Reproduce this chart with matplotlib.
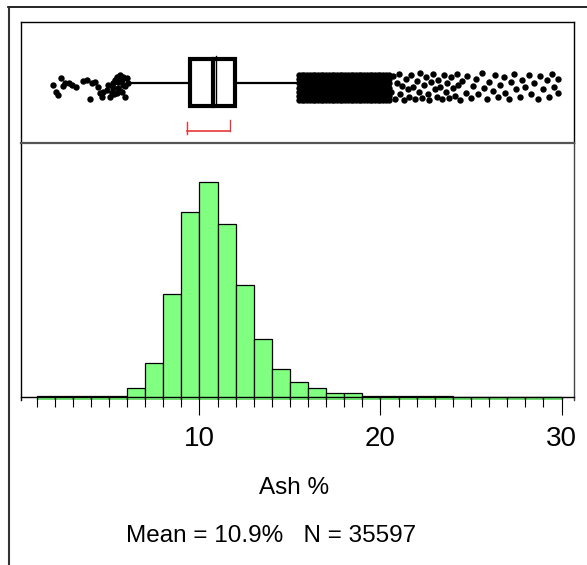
import matplotlib
matplotlib.use("Agg")
import matplotlib.pyplot as plt
from matplotlib.lines import Line2D
import numpy as np

# histogram of ash %, 1 unit bins
bin_edges = [1, 2, 3, 4, 5, 6, 7, 8, 9, 10, 11, 12, 13, 14, 15, 16, 17, 18, 19, 20,
             21, 22, 23, 24, 25, 26, 27, 28, 29, 30]
counts = [15, 20, 20, 25, 40, 340, 1260, 3860, 6950, 8080, 6500, 4210, 2160, 1030,
          565, 340, 130, 130, 15, 12, 10, 8, 8, 6, 6, 5, 5, 4, 4]

# outlier box plot summary
q1 = 9.45
median = 10.75
q3 = 11.96
mean = 10.9
whisker_lo = 6.16
whisker_hi = 15.44
shortest_half = [9.31, 11.69]

# low outliers (value, vertical jitter in panel fraction)
low_x = [1.92, 2.07, 2.20, 2.33, 2.44, 2.57, 2.81, 2.94, 3.18, 3.55, 3.80, 3.95, 4.04,
         4.23, 4.41, 4.50, 4.60, 4.69, 4.87, 4.96, 5.06, 5.15, 5.24, 5.33, 5.43, 5.51,
         5.61, 5.70, 5.79, 5.88, 5.70, 5.43, 5.99, 5.20, 5.50, 5.60, 5.90, 5.30, 5.80, 6.05]
low_y = [0.477, 0.421, 0.394, 0.533, 0.469, 0.491, 0.496, 0.477, 0.463, 0.513, 0.519,
         0.359, 0.491, 0.505, 0.463, 0.408, 0.380, 0.421, 0.436, 0.477, 0.380, 0.408,
         0.491, 0.519, 0.546, 0.450, 0.560, 0.421, 0.477, 0.380, 0.519, 0.408, 0.533,
         0.45, 0.50, 0.43, 0.47, 0.40, 0.54, 0.49]

# dense high outliers just past the upper whisker
dense_x = [15.5, 15.65, 15.8, 15.95, 16.1, 16.25, 16.4, 16.55, 16.7, 16.85, 17.0, 17.15,
           17.3, 17.45, 17.6, 17.75, 17.9, 18.05, 18.2, 18.35, 18.5, 18.65, 18.8, 18.95,
           19.1, 19.25, 19.4, 19.55, 19.7, 19.85, 20.0, 20.15, 20.3, 20.45]
dense_y = [0.35, 0.385, 0.42, 0.455, 0.49, 0.525, 0.56]

# sparser high outliers
high_x = [20.6, 20.7, 20.8, 20.9, 21.0, 21.1, 21.2, 21.3, 21.4, 21.5, 21.6, 21.7, 21.8,
          21.9, 22.0, 22.1, 22.2, 22.3, 22.4, 22.5, 22.6, 22.7, 22.8, 22.9, 23.0, 23.1,
          23.2, 23.3, 23.4, 23.5, 23.6, 23.7, 23.8, 23.9, 24.0, 24.1, 24.2, 24.3, 24.4,
          24.5, 24.7, 24.8, 25.0, 25.1, 25.3, 25.4, 25.6, 25.7, 25.9, 26.0, 26.2, 26.3,
          26.5, 26.6, 26.8, 26.9, 27.1, 27.2, 27.4, 27.5, 27.7, 27.8, 28.0, 28.2, 28.3,
          28.5, 28.7, 28.8, 29.0, 29.2, 29.3, 29.5, 29.6, 29.8, 29.8]
high_y = [0.42, 0.55, 0.36, 0.49, 0.57, 0.40, 0.47, 0.35, 0.53, 0.44, 0.38, 0.56, 0.46,
          0.36, 0.51, 0.42, 0.58, 0.37, 0.48, 0.54, 0.40, 0.35, 0.50, 0.57, 0.44, 0.38,
          0.52, 0.46, 0.36, 0.56, 0.42, 0.49, 0.37, 0.54, 0.45, 0.39, 0.57, 0.48, 0.35,
          0.51, 0.41, 0.55, 0.37, 0.47, 0.53, 0.40, 0.58, 0.45, 0.36, 0.50, 0.43, 0.56,
          0.38, 0.48, 0.54, 0.41, 0.36, 0.50, 0.57, 0.44, 0.38, 0.52, 0.46, 0.56, 0.40,
          0.49, 0.36, 0.55, 0.44, 0.52, 0.38, 0.57, 0.46, 0.41, 0.53]

major_ticks = [10, 20, 30]
x_label = "Ash %"
summary = "Mean = 10.9%   N = 35597"

plt.rcParams["font.family"] = ["Liberation Sans", "DejaVu Sans"]

W, H = 587, 565
fig = plt.figure(figsize=(W / 100, H / 100), dpi=100)

def fx(px):
    return px / W

def fy(py):
    return 1 - py / H

xlim = (0.14, 30.69)

# ---------- box plot panel ----------
axb = fig.add_axes([fx(21), fy(142.7), fx(574) - fx(21), fy(21.7) - fy(142.7)])
axb.set_xlim(xlim)
axb.set_ylim(0, 1)
axb.set_xticks([])
axb.set_yticks([])
for s in axb.spines.values():
    s.set_linewidth(1.0)
    s.set_color("black")
axb.spines["bottom"].set_visible(False)

yc = 0.494
bh = 0.388
axb.plot([whisker_lo, q1], [yc, yc], color="black", lw=1.6, solid_capstyle="butt")
axb.plot([q3, whisker_hi], [yc, yc], color="black", lw=1.6, solid_capstyle="butt")
axb.add_patch(plt.Rectangle((q1, yc - bh / 2), q3 - q1, bh, fill=False,
                            edgecolor="black", lw=3.0, joinstyle="miter"))
axb.plot([median, median], [yc - bh / 2, yc + bh / 2], color="black", lw=3.0)
axb.plot([mean, mean], [yc - bh / 2, yc + bh / 2 + 0.03], color="black", lw=1.0)

dxg, dyg = np.meshgrid(dense_x, dense_y)
pts_x = np.concatenate([low_x, dxg.ravel(), high_x])
pts_y = np.concatenate([low_y, dyg.ravel(), high_y])
axb.plot(pts_x, pts_y, "o", color="black", ms=4.6, mew=0)

red = "#e8373a"
axb.plot(shortest_half, [0.097, 0.097], color=red, lw=1.2)
axb.plot([shortest_half[0]] * 2, [0.07, 0.17], color=red, lw=1.0)
axb.plot([shortest_half[1]] * 2, [0.097, 0.188], color=red, lw=1.0)

# ---------- histogram panel ----------
px_per_count = 214.4 / 8080
off = 3.3 / px_per_count
ymax = (396.7 - 142.7) / px_per_count
axh = fig.add_axes([fx(21), fy(400), fx(574) - fx(21), fy(142.7) - fy(400)])
axh.set_xlim(xlim)
axh.set_ylim(-off, ymax)

lefts = bin_edges[:-1]
widths = np.diff(bin_edges)
axh.bar(lefts, np.array(counts) + off, width=widths, bottom=-off, align="edge",
        color="#80ff80", edgecolor="black", linewidth=0.9)

axh.spines["bottom"].set_position(("data", 0))
axh.spines["bottom"].set_linewidth(1.0)
axh.spines["left"].set_linewidth(1.0)
axh.spines["right"].set_linewidth(1.0)
axh.spines["right"].set_color("#444444")
axh.spines["top"].set_linewidth(1.6)
axh.spines["top"].set_color("#555555")
axh.set_yticks([])
axh.set_xticks(major_ticks)
axh.set_xticks(bin_edges, minor=True)
axh.tick_params(axis="x", which="major", direction="out", length=13, width=0.8,
                pad=8, labelsize=20)
axh.tick_params(axis="x", which="minor", direction="out", length=7.2, width=0.8)

fig.text(fx(294.5), fy(494), x_label, ha="center", va="baseline", fontsize=17.5)
fig.text(fx(271), fy(541.5), summary, ha="center", va="baseline", fontsize=17.5)

# outer report frame
fig.add_artist(Line2D([fx(8.5), fx(8.5)], [fy(9), fy(565)], color="#333333", lw=1.5))
fig.add_artist(Line2D([fx(7.5), fx(587)], [fy(6.8), fy(6.8)], color="black", lw=1.2))

fig.savefig("out.png", dpi=100)
